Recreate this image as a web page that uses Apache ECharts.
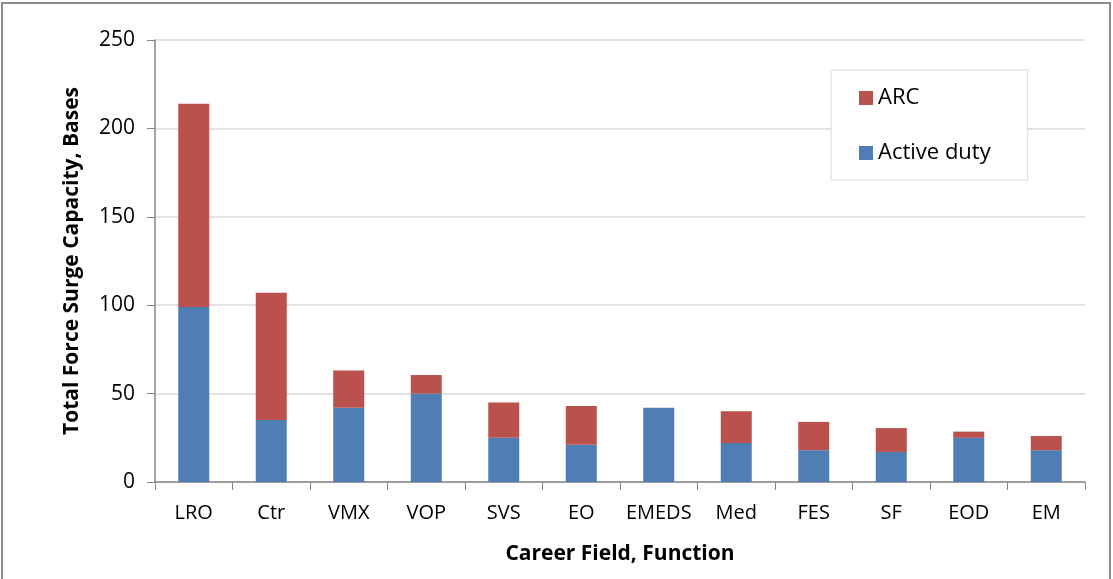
<!DOCTYPE html>
<html>
<head>
<meta charset="utf-8">
<script src="https://cdn.jsdelivr.net/npm/echarts@6/dist/echarts.min.js"></script>
<style>
  html, body { margin: 0; padding: 0; background: #fff; }
  #chart { width: 1113px; height: 579px; }
</style>
</head>
<body>
<div id="chart"></div>
<script>
  // career fields along the x axis
  var categories = ['LRO', 'Ctr', 'VMX', 'VOP', 'SVS', 'EO', 'EMEDS', 'Med', 'FES', 'SF', 'EOD', 'EM']
  // stacked parts
  var activeDuty = [99, 35, 42, 50, 25, 21, 42, 22, 18, 17, 25, 18]
  var arc = [115, 72, 21, 10.5, 20, 22, 0, 18, 16, 13.5, 3.5, 8]
  var yTicks = { min: 0, max: 250, step: 50 }

  var font = '"Open Sans", "Liberation Sans", sans-serif'
  var dom = echarts.init(document.getElementById('chart'))

  var option = {
    animation: false,
    color: ['#4F7EB4', '#BA514D'],
    graphic: [{
      type: 'rect',
      shape: { x: 2, y: 3, width: 1108, height: 600 },
      style: { fill: 'none', stroke: '#8c8c8c', lineWidth: 2 },
      silent: true
    }],
    grid: {
      left: 155,
      right: 28,
      top: 40,
      bottom: 97
    },
    legend: {
      data: ['ARC', 'Active duty'],
      orient: 'vertical',
      left: 831,
      top: 70,
      padding: [17, 37, 16, 28],
      itemGap: 33,
      itemWidth: 14,
      itemHeight: 14,
      icon: 'rect',
      borderColor: '#d9d9d9',
      borderWidth: 1,
      backgroundColor: '#fff',
      textStyle: { fontFamily: font, fontSize: 22, color: '#000' }
    },
    xAxis: {
      type: 'category',
      data: categories,
      name: 'Career Field, Function',
      nameLocation: 'middle',
      nameGap: 62,
      nameTextStyle: { fontFamily: font, fontSize: 21, fontWeight: 'bold', color: '#000' },
      axisLine: { lineStyle: { color: '#868686', width: 1.5 } },
      axisTick: { show: true, length: 8, lineStyle: { color: '#868686' } },
      axisLabel: { fontFamily: font, fontSize: 20, color: '#000', margin: 21, interval: 0 }
    },
    yAxis: {
      type: 'value',
      min: yTicks.min,
      max: yTicks.max,
      interval: yTicks.step,
      name: 'Total Force Surge Capacity, Bases',
      nameLocation: 'middle',
      nameGap: 72,
      nameTextStyle: { fontFamily: font, fontSize: 21, fontWeight: 'bold', color: '#000' },
      axisLine: { show: true, lineStyle: { color: '#868686', width: 1.5 } },
      axisTick: { show: true, length: 8, lineStyle: { color: '#868686' } },
      axisLabel: { fontFamily: font, fontSize: 21, color: '#000', margin: 20 },
      splitLine: { lineStyle: { color: '#d9d9d9', width: 1.5 } }
    },
    series: [{
      name: 'Active duty',
      type: 'bar',
      stack: 'total',
      barWidth: '40%',
      data: activeDuty
    }, {
      name: 'ARC',
      type: 'bar',
      stack: 'total',
      barWidth: '40%',
      data: arc
    }]
  }

  dom.setOption(option)
  window.addEventListener('resize', function () { dom.resize() })
</script>
</body>
</html>
